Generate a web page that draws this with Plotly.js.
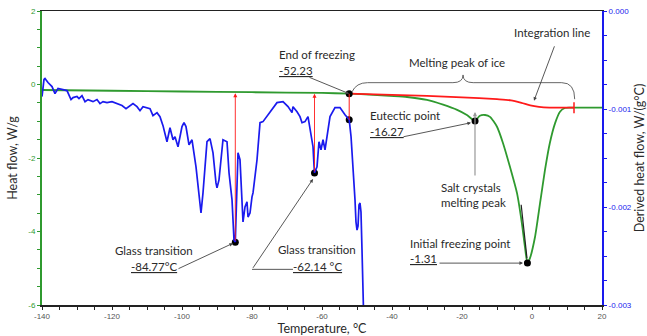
<!DOCTYPE html>
<html><head><meta charset="utf-8">
<script src="https://cdn.plot.ly/plotly-3.0.1.min.js"></script>
<style>html,body{margin:0;padding:0;background:#fff}#chart{width:647px;height:336px}</style>
</head><body><div id="chart"></div>
<script>
// Heat flow (W/g), left axis
const heatT = [-140,-120,-100,-80,-60,-52.23,-45.4,-40.6,-35.7,-30.0,-25.4,-21.4,-18.6,-16.27,-14.9,-13.4,-12.0,-10.0,-8.3,-6.3,-4.3,-2.9,-2.0,-1.31,-0.6,0.86,2.3,3.7,5.1,6.6,8.0,9.4,10.9,15,20];
const heatFlow = [-0.15,-0.17,-0.19,-0.21,-0.23,-0.25,-0.28,-0.31,-0.34,-0.42,-0.55,-0.69,-0.83,-0.99,-0.85,-0.83,-0.88,-1.15,-1.59,-2.24,-2.95,-3.77,-4.43,-4.86,-4.73,-4.15,-3.23,-2.33,-1.59,-1.05,-0.74,-0.64,-0.63,-0.63,-0.63];
// Integration line (W/g)
const integT = [-52.23,-40,-30,-20,-10,-6,-3,-0.5,2,5,12];
const integFlow = [-0.25,-0.28,-0.31,-0.35,-0.40,-0.43,-0.50,-0.57,-0.61,-0.63,-0.63];
// Derived heat flow (W/(g°C)), right axis
const derivT = [-140.0,-139.71,-139.43,-139.14,-138.29,-137.14,-136.29,-135.43,-134.0,-132.86,-131.71,-131.14,-130.0,-129.43,-128.57,-127.71,-126.86,-125.43,-124.29,-123.43,-122.57,-121.43,-120.0,-118.57,-117.14,-116.0,-114.86,-114.0,-112.86,-112.0,-111.14,-110.0,-109.14,-108.29,-107.14,-106.29,-105.43,-104.29,-103.43,-102.57,-102.0,-101.14,-100.0,-99.43,-98.86,-98.0,-97.14,-96.0,-95.43,-94.57,-94.0,-93.14,-92.86,-92.0,-91.14,-90.29,-90.0,-89.43,-88.57,-88.29,-87.14,-86.57,-85.71,-85.14,-84.77,-84.29,-84.0,-83.43,-82.86,-82.57,-82.0,-81.43,-81.14,-80.57,-80.0,-79.71,-78.57,-77.71,-76.86,-74.86,-72.86,-71.14,-69.71,-68.57,-68.29,-67.14,-66.29,-65.71,-64.86,-64.0,-63.43,-62.57,-62.29,-62.14,-61.43,-60.86,-60.29,-59.71,-59.14,-58.57,-57.71,-56.29,-54.86,-53.43,-52.23,-51.7,-51.1,-50.57,-50.29,-50.0,-49.71,-49.43,-49.14,-48.86,-48.57,-48.29,-48.0];
const derivFlow = [-0.000873,-0.000781,-0.000699,-0.000689,-0.000730,-0.000771,-0.000843,-0.000791,-0.000802,-0.000812,-0.000904,-0.000884,-0.000873,-0.000894,-0.000863,-0.000925,-0.000904,-0.000925,-0.000904,-0.000945,-0.000925,-0.000935,-0.000925,-0.000945,-0.000965,-0.000996,-0.000965,-0.000945,-0.000976,-0.001017,-0.000976,-0.000986,-0.000996,-0.001068,-0.001037,-0.001078,-0.001170,-0.001334,-0.001191,-0.001314,-0.001283,-0.001385,-0.001180,-0.001140,-0.001180,-0.001365,-0.001314,-0.001590,-0.001795,-0.002061,-0.001856,-0.001488,-0.001334,-0.001303,-0.001447,-0.001754,-0.001805,-0.001723,-0.001396,-0.001314,-0.001334,-0.001651,-0.001928,-0.002338,-0.002358,-0.001692,-0.001447,-0.001518,-0.001897,-0.002153,-0.002000,-0.001948,-0.002102,-0.002061,-0.001897,-0.001856,-0.001518,-0.001140,-0.001129,-0.001037,-0.000935,-0.000925,-0.000976,-0.001037,-0.000976,-0.001029,-0.001078,-0.001140,-0.001129,-0.001078,-0.001191,-0.001385,-0.001570,-0.001651,-0.001590,-0.001334,-0.001416,-0.001314,-0.001416,-0.001262,-0.001078,-0.000986,-0.000986,-0.001058,-0.001109,-0.001283,-0.001590,-0.001928,-0.002153,-0.002235,-0.002194,-0.001979,-0.001959,-0.002051,-0.002440,-0.002952,-0.003259];
// Marked points (°C, W/g): glass transitions, end of freezing, eutectic, initial freezing
const pointT = [-84.77,-62.14,-52.23,-52.23,-16.27,-1.31];
const pointFlow = [-4.29,-2.41,-0.25,-0.96,-0.99,-4.86];
const integEndT = 12.0;
// Tick labels
const xTickVals = [-140,-120,-100,-80,-60,-40,-20,0,20];
const xTickText = ['-140','-120','-100','-80','-60','-40','-20','0','20'];
const yTickVals = [2,0,-2,-4,-6];
const yTickText = ['2','0','-2','-4','-6'];
const y2TickVals = [0,-0.001,-0.002,-0.003];
const y2TickText = ['0.000','-0.001','-0.002','-0.003'];

const GREEN='#2f9a2f', BLUE='#1a1aee', RED='#ff1a1a', TXT='#2a2a2a';
const annFont={family:'Lato, Noto Sans, sans-serif', size:11.5, color:TXT};

const traces=[
  {x:derivT,y:derivFlow,yaxis:'y2',mode:'lines',line:{color:BLUE,width:1.7},hoverinfo:'skip'},
  {x:heatT,y:heatFlow,mode:'lines',line:{color:GREEN,width:1.8,shape:'spline',smoothing:0.6},hoverinfo:'skip'},
  {x:integT,y:integFlow,mode:'lines',line:{color:RED,width:1.8,shape:'spline',smoothing:0.6},hoverinfo:'skip'},
  {x:pointT,y:pointFlow,mode:'markers',marker:{color:'#000',size:7},hoverinfo:'skip'}
];

function txt(x,y,text,xanchor){return {xref:'x',yref:'y',x:x,y:y,text:text,showarrow:false,xanchor:xanchor||'center',yanchor:'middle',font:annFont,align:'left'};}
function arr(x0,y0,x1,y1,color,head,w,sz){return {xref:'x',yref:'y',axref:'x',ayref:'y',x:x1,y:y1,ax:x0,ay:y0,text:'',showarrow:true,arrowhead:head,arrowsize:sz||1,arrowwidth:w||0.9,arrowcolor:color};}

const annotations=[
  txt(-72.86,0.81,'End of freezing','left'),
  txt(-72.86,0.37,'<u>-52.23</u>','left'),
  arr(-64.0,0.21,pointT[2],pointFlow[2],'#444',2,0.9,0.8),
  txt(-21.43,0.59,'Melting peak of ice'),
  txt(5.71,1.41,'Integration line'),
  arr(6.57,1.08,0.57,-0.44,'#444',2,0.9,0.8),
  txt(-46.86,-0.85,'Eutectic point','left'),
  txt(-46.86,-1.29,'<u>-16.27</u>','left'),
  arr(-37.14,-1.43,-17.43,-1.04,'#444',2,0.9,0.8),
  arr(-16.29,-2.52,-16.29,-0.75,'#999',2,1.2,0.7),
  txt(-26.57,-3.01,'Salt crystals<br>melting peak','left'),
  arr(-3.14,-3.23,-1.43,-4.73,'#222',0,1.2,1),
  txt(-35.43,-4.32,'Initial freezing point','left'),
  txt(-35.43,-4.73,'<u>-1.31</u>','left'),
  arr(-26.86,-4.86,-2.57,-4.86,'#444',2,0.9,0.8),
  txt(-108.14,-4.51,'Glass transition'),
  txt(-107.86,-4.95,'<u>-84.77°C</u>'),
  arr(-101.43,-5.03,-85.43,-4.32,'#444',2,0.9,0.8),
  txt(-61.43,-4.48,'Glass transition'),
  txt(-61.43,-4.95,'<u>-62.14 °C</u>'),
  arr(-80.0,-5.03,-62.57,-2.57,'#444',2,0.9,0.8),
  arr(pointT[0],pointFlow[0],pointT[0],-0.24,RED,2,0.9,0.9),
  arr(pointT[1],pointFlow[1],pointT[1],-0.25,RED,2,0.9,0.9)
];

const shapes=[
  {type:'line',xref:'x',yref:'y',x0:-80.0,y0:-5.03,x1:-68.29,y1:-5.03,line:{color:'#444',width:0.9}},
  {type:'line',xref:'x',yref:'y',x0:pointT[2],y0:pointFlow[2],x1:pointT[3],y1:pointFlow[3],line:{color:RED,width:1}},
  {type:'line',xref:'x',yref:'y',x0:integEndT,y0:-0.48,x1:integEndT,y1:-0.78,line:{color:RED,width:1.5}},
  {type:'path',xref:'x',yref:'y',path:'M -51.43,-0.2 Q -50.2,0.05 -47,0.05 L -22.6,0.05 Q -19.7,0.05 -19.7,0.26 Q -19.7,0.05 -16.8,0.05 L 8.5,0.05 Q 12.2,0.05 12.2,-0.4',line:{color:'#555',width:0.9}}
];

const layout={
  width:647,height:336,margin:{l:42,r:45,t:11,b:31},
  paper_bgcolor:'#fff',plot_bgcolor:'#fff',showlegend:false,
  font:{family:'Liberation Sans, Arial, sans-serif',size:8,color:'#555'},
  xaxis:{range:[-140,20],tickmode:'array',tickvals:xTickVals,ticktext:xTickText,ticks:'outside',ticklen:3,tickwidth:1,tickcolor:'#222',showline:true,linecolor:'#222',linewidth:1.5,mirror:true,showgrid:false,zeroline:false,
    tickfont:{size:8,color:'#555'},minor:{tick0:-140,dtick:5,ticks:'outside',ticklen:3,tickcolor:'#222',showgrid:false},
    title:{text:'Temperature, °C',font:{family:'Lato, sans-serif',size:12.5,color:TXT},standoff:11}},
  yaxis:{range:[-6,2],tickmode:'array',tickvals:yTickVals,ticktext:yTickText,ticks:'outside',ticklen:3,tickcolor:GREEN,showline:true,linecolor:GREEN,linewidth:2,showgrid:false,zeroline:false,
    tickfont:{size:8,color:GREEN},minor:{tick0:0,dtick:0.5,ticks:'outside',ticklen:3,tickcolor:GREEN,showgrid:false},
    title:{text:'Heat flow, W/g',font:{family:'Lato, sans-serif',size:12.5,color:TXT},standoff:8}},
  yaxis2:{overlaying:'y',side:'right',range:[-0.003,0],tickmode:'array',tickvals:y2TickVals,ticktext:y2TickText,ticks:'outside',ticklen:3,tickcolor:BLUE,showline:true,linecolor:BLUE,linewidth:2,showgrid:false,zeroline:false,
    tickfont:{size:8,color:BLUE},minor:{tick0:0,dtick:0.00025,ticks:'outside',ticklen:3,tickcolor:BLUE,showgrid:false},
    title:{text:'Derived heat flow, W/(g°C)',font:{family:'Lato, sans-serif',size:12.5,color:TXT},standoff:7}},
  annotations:annotations,shapes:shapes
};
Plotly.newPlot('chart',traces,layout,{staticPlot:true,displayModeBar:false});
</script></body></html>
